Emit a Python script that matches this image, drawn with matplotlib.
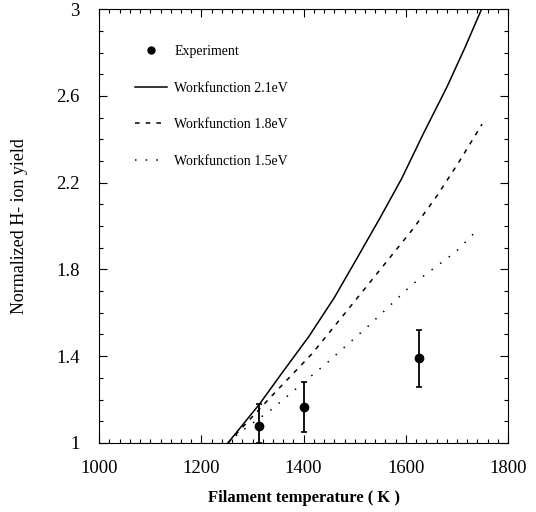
import numpy as np
import matplotlib
matplotlib.use("Agg")
import matplotlib.pyplot as plt
from matplotlib.ticker import MultipleLocator
from matplotlib.lines import Line2D

plt.rcParams['font.family'] = ['Liberation Serif', 'DejaVu Serif']

# experiment
exp_T = [1312, 1400, 1625]
exp_y = [1.08, 1.165, 1.39]
exp_lo = [1.0, 1.05, 1.26]
exp_hi = [1.18, 1.28, 1.52]

# model curves
T_21 = [1252, 1314, 1360, 1410, 1460, 1504, 1550, 1592, 1635, 1680, 1715, 1748]
y_21 = [1.0, 1.18, 1.33, 1.49, 1.67, 1.85, 2.04, 2.22, 2.43, 2.64, 2.82, 3.0]

T_18 = [1252, 1335, 1416, 1485, 1550, 1615, 1661, 1705, 1749]
y_18 = [1.0, 1.21, 1.41, 1.61, 1.80, 1.99, 2.14, 2.30, 2.47]

T_15 = [1252, 1276, 1335, 1446, 1527, 1612, 1697, 1739]
y_15 = [1.0, 1.05, 1.15, 1.37, 1.54, 1.73, 1.88, 1.98]

fig = plt.figure(figsize=(5.36, 5.12), dpi=100)
ax = fig.add_axes([0.185, 0.135, 0.763, 0.847])

yerr = [np.array(exp_y) - np.array(exp_lo), np.array(exp_hi) - np.array(exp_y)]
ax.errorbar(exp_T, exp_y, yerr=yerr, fmt='o', color='black', ms=6,
            elinewidth=1.3, capsize=2, capthick=1.2)
h_exp = Line2D([], [], ls='none', marker='o', color='black', ms=5, label='Experiment')
h21, = ax.plot(T_21, y_21, color='black', lw=1.1, label='Workfunction 2.1eV')
h18, = ax.plot(T_18, y_18, color='black', lw=1.1, ls=(0, (3, 4)), label='Workfunction 1.8eV')
h15, = ax.plot(T_15, y_15, color='black', lw=1.1, ls=(0, (1, 6)), label='Workfunction 1.5eV')

ax.set_xlim(1000, 1800)
ax.set_ylim(1, 3)
ax.xaxis.set_major_locator(MultipleLocator(200))
ax.xaxis.set_minor_locator(MultipleLocator(20))
ax.set_yticks([1, 1.4, 1.8, 2.2, 2.6, 3.0])
ax.set_yticklabels(['1', '1.4', '1.8', '2.2', '2.6', '3'])
ax.yaxis.set_minor_locator(MultipleLocator(0.1))
ax.tick_params(which='both', direction='in', top=True, right=True, labelsize=13.5)
ax.tick_params(which='major', length=6, width=0.8)
ax.tick_params(which='minor', length=3, width=0.8)
ax.tick_params(axis='x', pad=12)
ax.tick_params(axis='y', pad=14)

ax.set_xlabel('Filament temperature ( K )', fontsize=12, fontweight='bold', labelpad=10)
ax.set_ylabel('Normalized H- ion yield', fontsize=13, labelpad=20)

ax.legend(handles=[h_exp, h21, h18, h15], loc='upper left', frameon=False,
          fontsize=10, handlelength=2.3, handletextpad=0.5, labelspacing=1.7,
          bbox_to_anchor=(0.075, 0.93), borderaxespad=0)

fig.savefig('out.png', dpi=100)
